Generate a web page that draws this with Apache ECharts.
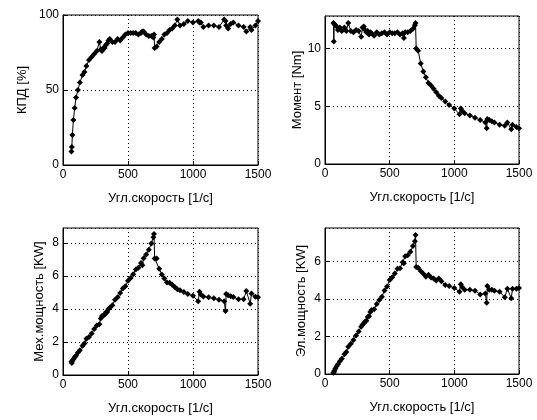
<!DOCTYPE html>
<html><head><meta charset="utf-8">
<script src="https://cdn.jsdelivr.net/npm/echarts@6/dist/echarts.min.js"></script>
<style>html,body{margin:0;padding:0;background:#fff}#c{width:537px;height:420px}</style>
</head><body><div id="c"></div>
<script>
// Speed values [1/c]
const speed = [65,68,72,80,90,100,115,130,150,165,180,200,220,240,260,280,290,300,310,320,330,340,350,360,380,400,420,440,460,480,500,520,540,560,580,600,610,620,640,660,680,695,700,705,720,740,760,780,800,820,840,860,880,900,930,960,1000,1040,1050,1060,1080,1120,1160,1200,1240,1250,1255,1270,1290,1310,1350,1390,1410,1440,1450,1480,1500];
// КПД [%]
const efficiency = [9,12,20,30,38,45,50,55,60,62,66,70,72,74,76,82,77,76,78,78,80,81,83,84,82,82,84,83,85,87,88,88,88,88,87,88,89,89,87,86,86,85,87,78,79,82,84,87,88,90,91,93,97,93,94,96,95,96,95,95,92,93,93,92,97,96,93,91,94,95,93,92,89,92,90,93,96];
// Момент [Nm]
const torque = [12.2,10.6,12.1,12.0,11.9,11.6,11.8,11.5,11.8,11.5,12.2,11.5,11.4,11.6,11.5,11.0,11.8,11.9,11.6,11.4,11.5,11.2,11.4,11.3,11.1,11.4,11.2,11.3,11.4,11.2,11.4,11.3,11.3,11.4,11.2,11.3,10.9,11.4,11.4,11.5,11.7,12.0,12.2,10.0,9.8,8.7,8.0,7.5,7.0,6.8,6.5,6.2,5.9,5.7,5.4,5.1,4.8,4.3,4.8,4.6,4.4,4.2,4.0,3.8,3.6,3.1,3.9,3.8,3.7,3.6,3.4,3.3,3.6,3.0,3.4,3.2,3.1];
// Мех.мощность [KW]
const mechPower = [0.8,0.72,0.87,0.96,1.07,1.16,1.36,1.5,1.77,1.9,2.2,2.3,2.51,2.78,2.99,3.08,3.42,3.57,3.6,3.65,3.8,3.81,3.99,4.07,4.22,4.56,4.7,4.97,5.24,5.38,5.7,5.88,6.1,6.38,6.5,6.78,6.65,7.07,7.3,7.59,7.96,8.34,8.54,7.05,7.06,6.44,6.08,5.85,5.6,5.58,5.46,5.33,5.19,5.13,5.02,4.9,4.8,4.47,5.04,4.88,4.75,4.7,4.64,4.56,4.46,3.88,4.9,4.83,4.77,4.72,4.59,4.59,5.08,4.32,4.93,4.74,4.7];
// Эл.мощность [KW]
const elPower = [0.07,0.09,0.17,0.29,0.41,0.52,0.68,0.82,1.06,1.18,1.45,1.61,1.81,2.06,2.27,2.53,2.63,2.71,2.81,2.85,3.04,3.09,3.31,3.42,3.46,3.74,3.95,4.13,4.46,4.68,5.02,5.17,5.37,5.62,5.65,5.97,5.92,6.29,6.35,6.53,6.84,7.09,7.43,5.72,5.68,5.5,5.35,5.2,5.3,5.15,5.1,5.0,5.1,4.95,4.75,4.7,4.6,4.4,4.8,4.65,4.5,4.5,4.45,4.25,4.3,3.8,4.7,4.5,4.5,4.45,4.4,4.1,4.55,4.05,4.55,4.55,4.6];
const xTitle = 'Угл.скорость [1/с]';
const yTitles = ['КПД [%]','Момент [Nm]','Мех.мощность [KW]','Эл.мощность [KW]'];
const yMax = [100, 12.8, 8.9, 7.8];
const yInterval = [50, 5, 2, 2];
const yNameGap = [34, 21, 17, 17];
const values = [efficiency, torque, mechPower, elPower];

const FONT = 'Liberation Sans';
const boxes = [
  {left:63, top:15, width:195, height:150},
  {left:325, top:16, width:194, height:148},
  {left:63, top:228, width:195, height:147},
  {left:325, top:228, width:194, height:146}
];
const grid = [], xAxis = [], yAxis = [], series = [];
const dotted = {show:true, lineStyle:{color:'#000', width:1, type:[1,3]}};
boxes.forEach((b,i)=>{
  grid.push(Object.assign({show:true, borderColor:'#000', borderWidth:1, backgroundColor:'#fff', containLabel:false}, b));
  xAxis.push({
    gridIndex:i, type:'value', min:0, max:1500, interval:500,
    name:xTitle, nameLocation:'middle', nameGap:27,
    nameTextStyle:{fontFamily:FONT, fontSize:13, color:'#000'},
    axisLine:{show:true, lineStyle:{color:'#000'}},
    axisTick:{show:true, inside:true, length:4, lineStyle:{color:'#000'}},
    axisLabel:{fontFamily:FONT, fontSize:12, color:'#000', margin:4, formatter: v => String(v)},
    splitLine: dotted
  });
  yAxis.push({
    gridIndex:i, type:'value', min:0, max:yMax[i], interval:yInterval[i],
    name:yTitles[i], nameLocation:'middle', nameGap:yNameGap[i], nameRotate:90,
    nameTextStyle:{fontFamily:FONT, fontSize:13, color:'#000'},
    axisLine:{show:true, lineStyle:{color:'#000'}},
    axisTick:{show:true, inside:true, length:4, lineStyle:{color:'#000'}},
    axisLabel:{fontFamily:FONT, fontSize:12, color:'#000', margin:4, showMaxLabel: i===0, formatter: v => String(v)},
    splitLine: dotted
  });
  series.push({
    type:'line', xAxisIndex:i, yAxisIndex:i,
    data: speed.map((s,k)=>[s, values[i][k]]),
    symbol:'diamond', symbolSize:6, showSymbol:true,
    lineStyle:{color:'#000', width:1}, itemStyle:{color:'#000'},
    animation:false, silent:true
  });
});
const chart = echarts.init(document.getElementById('c'));
chart.setOption({animation:false, backgroundColor:'#fff', grid, xAxis, yAxis, series});
</script></body></html>
